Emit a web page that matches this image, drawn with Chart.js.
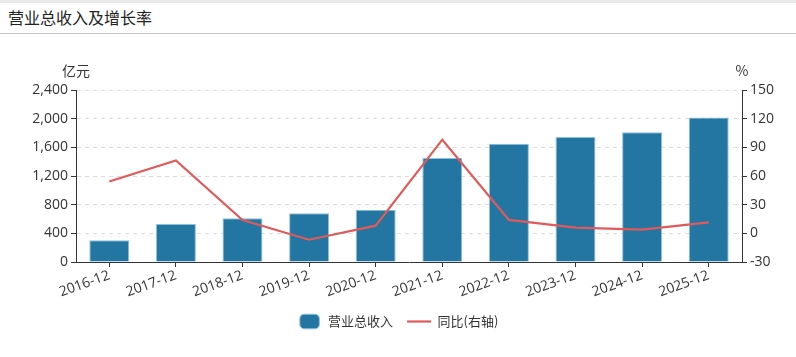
<!DOCTYPE html>
<html>
<head>
<meta charset="utf-8">
<script src="https://cdn.jsdelivr.net/npm/chart.js@4.4.1/dist/chart.umd.min.js"></script>
<style>
  html, body { margin: 0; padding: 0; background: #fff; }
  body { width: 796px; height: 357px; position: relative; overflow: hidden; font-family: "Noto Sans CJK SC", "Open Sans", sans-serif; }
  #topstrip { position: absolute; left: 0; top: 0; width: 796px; height: 3px; background: #e8e8e8; }
  #title { position: absolute; left: 8px; top: 6px; font-size: 16px; color: #222; line-height: 22px; }
  #rule { position: absolute; left: 0; top: 33px; width: 796px; height: 1px; background: #c8c8c8; }
  #wrap { position: absolute; left: 0; top: 34px; width: 796px; height: 323px; }
</style>
</head>
<body>
<div id="topstrip"></div>
<div id="title">营业总收入及增长率</div>
<div id="rule"></div>
<div id="wrap"><canvas id="c" width="796" height="323"></canvas></div>
<script>
const categories = ["2016-12","2017-12","2018-12","2019-12","2020-12","2021-12","2022-12","2023-12","2024-12","2025-12"];
const revenue = [303, 530, 610, 679, 730, 1451, 1650, 1744, 1809, 2018];
const growth = [54.2, 76.3, 14.0, -6.7, 8.0, 98.0, 14.0, 5.9, 3.8, 11.5];
const leftTicks = [0, 400, 800, 1200, 1600, 2000, 2400];
const rightTicks = [-30, 0, 30, 60, 90, 120, 150];
const seriesNames = ["营业总收入", "同比(右轴)"];
const unitLeft = "亿元";
const unitRight = "%";

const FONT = '"Open Sans", "Noto Sans CJK SC", sans-serif';

const unitPlugin = {
  id: 'units',
  afterDraw(chart) {
    const ctx = chart.ctx;
    const a = chart.chartArea;
    ctx.save();
    ctx.fillStyle = '#333';
    ctx.font = '14px "Noto Sans CJK SC", sans-serif';
    ctx.textBaseline = 'middle';
    ctx.textAlign = 'center';
    ctx.fillText(unitLeft, a.left, a.top - 19);
    ctx.fillText(unitRight, a.right, a.top - 19);
    ctx.restore();
  }
};

new Chart(document.getElementById('c'), {
  data: {
    labels: categories,
    datasets: [
      {
        type: 'line',
        label: seriesNames[1],
        data: growth,
        yAxisID: 'y1',
        borderColor: '#e05a5a',
        backgroundColor: '#e05a5a',
        borderWidth: 2.2,
        pointRadius: 0,
        pointHoverRadius: 0,
        tension: 0,
        pointStyle: 'line',
        order: 0
      },
      {
        type: 'bar',
        label: seriesNames[0],
        data: revenue,
        yAxisID: 'y',
        backgroundColor: '#2376a2',
        borderColor: '#8fc0dc',
        borderWidth: 1,
        categoryPercentage: 0.6,
        barPercentage: 1.0,
        pointStyle: 'rectRounded',
        order: 1
      }
    ]
  },
  options: {
    responsive: false,
    animation: false,
    layout: { padding: { top: 56, bottom: 19, left: 0, right: 0 } },
    plugins: {
      legend: {
        position: 'bottom',
        reverse: true,
        labels: {
          usePointStyle: true,
          pointStyleWidth: 24,
          boxHeight: 12,
          boxWidth: 24,
          padding: 14,
          color: '#333',
          font: { family: '"Noto Sans CJK SC", sans-serif', size: 13 }
        }
      },
      tooltip: { enabled: false }
    },
    scales: {
      x: {
        grid: { display: true, drawOnChartArea: false, drawTicks: true, tickLength: 5, tickColor: '#333', offset: false },
        border: { display: true, color: '#333', width: 1 },
        ticks: { color: '#333', font: { family: FONT, size: 14 }, minRotation: 20, maxRotation: 20, padding: 0 },
        afterFit(s) { s.height = 39; }
      },
      y: {
        position: 'left',
        min: 0, max: 2400,
        afterBuildTicks(s) { s.ticks = leftTicks.map(v => ({ value: v })); },
        grid: { color: '#dcdcdc', tickBorderDash: [], tickColor: '#333', tickLength: 5 },
        border: { display: true, color: '#333', width: 1, dash: [4, 4] },
        ticks: { color: '#333', font: { family: FONT, size: 14 }, padding: 3,
                 callback: v => v.toLocaleString('en-US') },
        afterFit(s) { s.width = 76; }
      },
      y1: {
        position: 'right',
        min: -30, max: 150,
        afterBuildTicks(s) { s.ticks = rightTicks.map(v => ({ value: v })); },
        grid: { drawOnChartArea: false, tickColor: '#333', tickLength: 5 },
        border: { display: true, color: '#333', width: 1 },
        ticks: { color: '#333', font: { family: FONT, size: 14 }, padding: 3 },
        afterFit(s) { s.width = 54; }
      }
    }
  },
  plugins: [unitPlugin]
});
</script>
</body>
</html>
